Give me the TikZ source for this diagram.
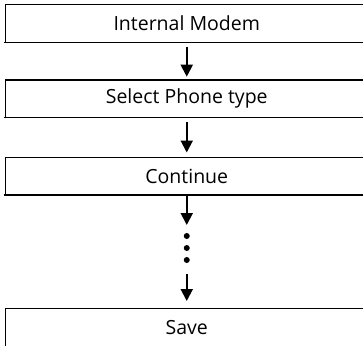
\documentclass[tikz,border=0pt]{standalone}
\usepackage{fontspec}
\setmainfont{Open Sans}
\usetikzlibrary{arrows.meta}
\begin{document}
\begin{tikzpicture}[x=1pt,y=-1pt,
  stepbox/.style={rectangle, minimum width=362.5pt, minimum height=37pt, inner sep=0pt, font=\fontsize{19.5}{22}\selectfont},
  boxline/.style={line width=1.3pt, line cap=butt, line join=miter},
  flowarrow/.style={line width=2pt, -{Triangle[width=12pt,length=12pt]}},
  dotmark/.style={circle, fill=black, inner sep=0pt, minimum size=6pt}]
\useasboundingbox (0,0) rectangle (363,345);
\clip (0,0) rectangle (363,345);
\node[stepbox] (a) at (186.75,23.5) {Internal Modem};
\node[stepbox] (b) at (186.75,98.7) {Select Phone type};
\node[stepbox] (c) at (186.75,176.2) {Continue};
\node[stepbox] (d) at (186.75,327.2) {Save};
\foreach \n in {a,b,c}{
  \draw[boxline] ([xshift=20pt]\n.north east) -- (\n.north west) -- (\n.south west);
  \draw[boxline] ([xshift=-1.5pt]\n.south west) -- ([xshift=20pt]\n.south east);
}
\draw[boxline] ([xshift=20pt]d.north east) -- (d.north west) -- ([yshift=-30pt]d.south west);
\coordinate (e1) at (186.75,225);
\coordinate (e2) at (186.75,273.5);
\node[dotmark] (p1) at (186.75,236) {};
\node[dotmark] (p2) at (186.75,248) {};
\node[dotmark] (p3) at (186.75,260) {};
\draw[flowarrow, shorten <=4.5pt, shorten >=3.3pt] (a.south) -- (b.north);
\draw[flowarrow, shorten <=5pt, shorten >=5pt] (b.south) -- (c.north);
\draw[flowarrow, shorten <=1.5pt] (c.south) -- (e1);
\draw[flowarrow, shorten >=7.5pt] (e2) -- (d.north);
\end{tikzpicture}
\end{document}
